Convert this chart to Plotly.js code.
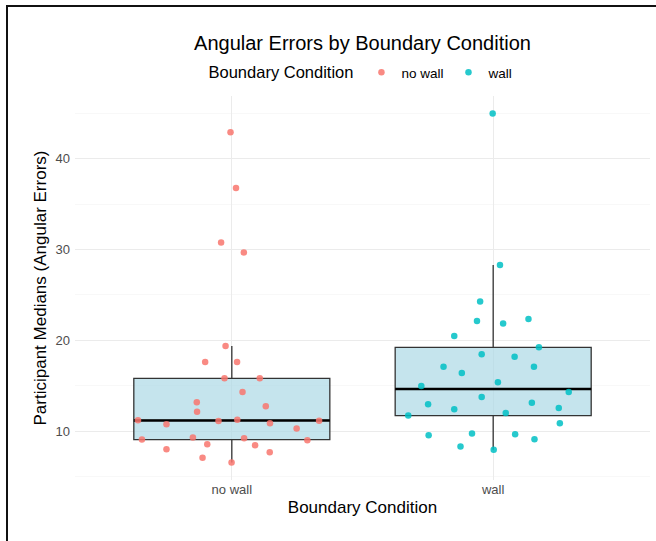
<!DOCTYPE html>
<html>
<head>
<meta charset="utf-8">
<script src="https://cdn.plot.ly/plotly-3.0.1.min.js"></script>
<style>
  html, body { margin: 0; padding: 0; background: #fff; }
  #chart { width: 656px; height: 541px; position: absolute; left: 0; top: 0; }
  #frame { position: absolute; left: 6px; top: 5px; right: 0; bottom: 0;
           border-top: 2px solid #111; border-left: 2px solid #111; pointer-events: none; }
</style>
</head>
<body>
<div id="chart"></div>
<div id="frame"></div>
<script>
// ---- data ----
const categories = ["no wall", "wall"];

const noWallValues = [42.92, 36.77, 30.77, 29.67, 19.37, 17.62, 17.62, 15.82, 15.82, 14.32,
  13.19, 12.75, 12.15, 11.21, 10.77, 11.13, 11.27, 10.88, 11.16, 10.29,
  9.08, 9.30, 8.57, 9.23, 8.46, 9.01, 8.02, 7.69, 7.07, 6.55];
const noWallJitter = [-0.005, 0.016, -0.041, 0.046, -0.024, -0.102, 0.020, -0.028, 0.107, 0.041,
  -0.134, 0.130, -0.133, -0.359, -0.250, -0.051, 0.021, 0.146, 0.334, 0.248,
  -0.344, -0.149, -0.094, 0.047, 0.089, 0.289, -0.250, 0.145, -0.112, -0.001];

const wallValues = [44.98, 28.31, 24.29, 22.12, 21.87, 22.34, 20.47, 19.23, 18.46, 18.20,
  17.10, 17.10, 16.41, 14.98, 15.38, 14.32, 12.97, 13.77, 13.14, 12.42,
  12.56, 11.72, 12.01, 10.88, 9.56, 9.74, 9.67, 9.12, 8.31, 7.95];
const wallJitter = [-0.002, 0.026, -0.050, -0.062, 0.038, 0.135, -0.149, 0.175, -0.044, 0.082,
  -0.190, 0.156, -0.120, -0.275, 0.018, 0.289, -0.249, -0.044, 0.148, -0.149,
  0.251, -0.325, 0.048, 0.255, -0.247, -0.081, 0.084, 0.158, -0.125, 0.002];

const pointColors = ["#F8766D", "#00BFC4"];
const seriesValues = [noWallValues, wallValues];
const seriesJitter = [noWallJitter, wallJitter];

// ---- helpers ----
function quantile(arr, p) {
  const s = arr.slice().sort((a, b) => a - b);
  const h = (s.length - 1) * p;
  const lo = Math.floor(h), hi = Math.ceil(h);
  return s[lo] + (s[hi] - s[lo]) * (h - lo);
}

const boxWidth = 0.75;
const traces = [];

// boxes
seriesValues.forEach((vals, i) => {
  traces.push({
    type: "box",
    x: vals.map(() => i + 1),
    y: vals,
    width: boxWidth,
    quartilemethod: "linear",
    boxpoints: "outliers",
    marker: { opacity: 0, size: 1 },
    fillcolor: "rgba(173,216,230,0.7)",
    line: { color: "#333333", width: 1.3 },
    whiskerwidth: 0,
    showlegend: false,
    hoverinfo: "skip"
  });
});

// thick median lines
seriesValues.forEach((vals, i) => {
  const m = quantile(vals, 0.5);
  traces.push({
    type: "scatter",
    mode: "lines",
    x: [i + 1 - boxWidth / 2, i + 1 + boxWidth / 2],
    y: [m, m],
    line: { color: "#000000", width: 2.4 },
    showlegend: false,
    hoverinfo: "skip"
  });
});

// jittered points
seriesValues.forEach((vals, i) => {
  traces.push({
    type: "scatter",
    mode: "markers",
    name: categories[i],
    x: vals.map((v, k) => i + 1 + seriesJitter[i][k]),
    y: vals,
    marker: { color: pointColors[i], size: 6.5, opacity: 0.85 },
    hoverinfo: "y"
  });
});

// y range with 5% expansion (ggplot default)
const allVals = noWallValues.concat(wallValues);
const yMin = Math.min(...allVals), yMax = Math.max(...allVals);
const pad = (yMax - yMin) * 0.05;

const font = "Liberation Sans, Arial, Helvetica, sans-serif";

const layout = {
  width: 656,
  height: 541,
  margin: { l: 75, r: 6, t: 96, b: 61 },
  paper_bgcolor: "#ffffff",
  plot_bgcolor: "#ffffff",
  font: { family: font, color: "#000000" },
  title: {
    text: "Angular Errors by Boundary Condition",
    font: { size: 20, color: "#000000", family: font },
    x: 0.5, xref: "paper", xanchor: "center",
    y: 0.921, yref: "container", yanchor: "middle"
  },
  showlegend: true,
  legend: {
    orientation: "h",
    x: 0.5, xanchor: "center",
    y: 1.06, yanchor: "middle",
    title: { text: "Boundary Condition", side: "left", font: { size: 16.5, color: "#000000" } },
    font: { size: 13.5, color: "#000000" },
    itemwidth: 30,
    bgcolor: "rgba(0,0,0,0)"
  },
  xaxis: {
    range: [0.4, 2.6],
    tickvals: [1, 2],
    ticktext: categories,
    showgrid: true,
    gridcolor: "#EBEBEB",
    gridwidth: 1,
    zeroline: false,
    showline: false,
    ticks: "",
    tickfont: { size: 13, color: "#4D4D4D" },
    title: { text: "Boundary Condition", font: { size: 17, color: "#000000" }, standoff: 5 },
    fixedrange: true
  },
  yaxis: {
    range: [yMin - pad, yMax + pad],
    tickvals: [10, 20, 30, 40],
    showgrid: true,
    gridcolor: "#EBEBEB",
    gridwidth: 1,
    minor: { tickvals: [5, 15, 25, 35, 45], showgrid: true, gridcolor: "#F3F3F3", gridwidth: 0.6, ticks: "" },
    zeroline: false,
    showline: false,
    ticks: "",
    ticklabelstandoff: 4,
    tickfont: { size: 13, color: "#4D4D4D" },
    title: { text: "Participant Medians (Angular Errors)", font: { size: 17, color: "#000000" }, standoff: 4 },
    fixedrange: true
  }
};

Plotly.newPlot("chart", traces, layout, { displayModeBar: false, staticPlot: true });
</script>
</body>
</html>
